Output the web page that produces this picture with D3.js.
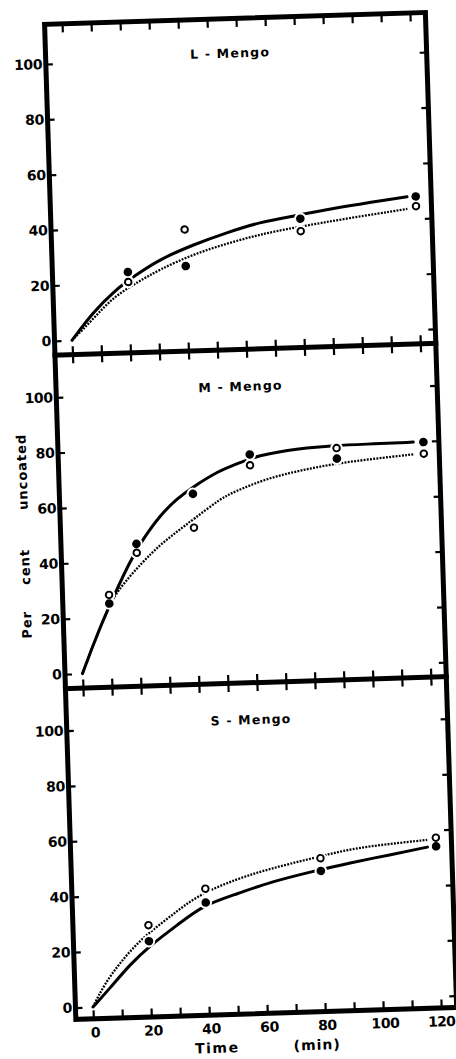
<!DOCTYPE html>
<html>
<head>
<meta charset="utf-8">
<script src="https://cdn.jsdelivr.net/npm/d3@7"></script>
<style>
  html, body { margin: 0; padding: 0; background: #fff; }
  svg { display: block; }
  text { font-family: "DejaVu Sans", "Liberation Sans", sans-serif; font-weight: bold; fill: #000; }
</style>
</head>
<body>
<svg id="chart" width="456" height="1059"></svg>
<script>
// ---- data ----------------------------------------------------------------
const panelNames = ["L - Mengo", "M - Mengo", "S - Mengo"];
const timeTicks = [0, 10, 20, 30, 40, 50, 60, 70, 80, 90, 100, 110, 120];
const timeLabels = [0, 20, 40, 60, 80, 100, 120];
const percentTicks = [0, 20, 40, 60, 80, 100];

// L-Mengo: measured points (min, per cent uncoated)
const lTimes = [20, 40, 80, 120];
const lFilled = [24, 25.5, 41.3, 48];
const lOpen = [20.4, 38.7, 36.8, 44.5];
// fitted curves as drawn
const lSolid = [[0, 0], [7.5, 9.8], [15, 17.3], [22.5, 22.7], [31, 28.2], [43, 33.2], [54.5, 37.1], [66, 40.5], [77.5, 42.3], [97, 45.5], [117, 48]];
const lDotted = [[0, 0], [7.5, 7.4], [14.5, 15], [23, 20.1], [31, 24.6], [42.5, 29.6], [54.5, 33.2], [66, 36.1], [77.5, 38.1], [97, 41], [117, 43.6]];

// M-Mengo
const mTimes = [10, 20, 40, 60, 90, 120];
const mFilled = [25, 46.2, 63.6, 77.2, 74.7, 79.7];
const mOpen = [28.1, 43, 51.4, 73.3, 78.5, 75.5];
const mSolid = [[0, 0], [4, 10.3], [9, 22.2], [18, 41], [22.5, 48.1], [28.5, 56.3], [34.5, 62.1], [40, 66.1], [49.5, 71.8], [54.5, 73.5], [62.5, 76.8], [77.5, 78.9], [89, 79.5], [103, 79.6], [116.5, 79.8]];
const mDotted = [[0, 0], [4, 10.3], [9, 22.2], [12.5, 29.2], [22, 39.7], [28, 45.5], [34, 50.1], [40, 54.5], [49.5, 61.6], [54, 63.8], [65.5, 68.3], [77, 70.8], [89, 72.9], [102.5, 74.2], [116.5, 75.4]];

// S-Mengo
const sTimes = [20, 40, 80, 120];
const sFilled = [23.1, 36.4, 46.5, 54.1];
const sOpen = [28.9, 41.4, 51.1, 57.2];
const sSolid = [[0, 0], [6, 6.5], [13, 14.7], [20.5, 21.7], [30, 28.6], [39, 35.5], [51, 39.2], [62.5, 43.1], [77.5, 46.5], [90, 49.1], [104, 51.5], [117, 53.9]];
const sDotted = [[0, 0], [4, 7.8], [10, 16], [18, 24.7], [27.5, 31.6], [37, 39.1], [51, 44.6], [62.5, 47.9], [76.5, 51], [90, 54.1], [104, 55.5], [117, 56.5]];

const panels = [
  { name: panelNames[0], times: lTimes, filled: lFilled, open: lOpen, solid: lSolid, dotted: lDotted },
  { name: panelNames[1], times: mTimes, filled: mFilled, open: mOpen, solid: mSolid, dotted: mDotted },
  { name: panelNames[2], times: sTimes, filled: sFilled, open: sOpen, solid: sSolid, dotted: sDotted }
];

// ---- layout --------------------------------------------------------------
const W = 386;          // frame width
const PH = 333.5;       // height of each stacked panel
const H = PH * 3;
const FRAME = 5;        // heavy frame stroke
const TICK = 8.5;

const svg = d3.select("#chart");
svg.append("rect").attr("width", 456).attr("height", 1059).attr("fill", "#fff");

// the whole figure sits slightly tilted on the page
const root = svg.append("g").attr("transform", "translate(42,22) rotate(-1.8)");

const x = d3.scaleLinear().domain([-6.9, 126.2]).range([0, W]);
const y = d3.scaleLinear().domain([-5.2, 115.2]).range([PH, 0]);

// smooth hand-drawn style curves through the traced positions
const line = d3.line()
  .x(d => x(d[0]))
  .y(d => y(d[1]))
  .curve(d3.curveBasis);

function styleTicks(g, w) {
  g.select(".domain").remove();
  g.selectAll(".tick line").attr("stroke", "#000").attr("stroke-width", w);
}

panels.forEach((p, i) => {
  const g = root.append("g").attr("transform", `translate(0,${i * PH})`);
  const top = i === 0 ? FRAME / 2 : 0;
  const bottom = i === 2 ? PH - FRAME / 2 : PH;

  // time ticks along the top and bottom edges, pointing inwards
  g.append("g").attr("transform", `translate(0,${top})`)
    .call(d3.axisTop(x).tickValues(timeTicks).tickSize(-TICK).tickFormat(""))
    .call(s => styleTicks(s, 2.2));
  g.append("g").attr("transform", `translate(0,${bottom})`)
    .call(d3.axisBottom(x).tickValues(timeTicks).tickSize(-TICK).tickFormat(""))
    .call(s => styleTicks(s, 2.2));

  // per cent ticks: left with labels, right plain
  const left = g.append("g").attr("transform", `translate(${FRAME / 2},0)`)
    .call(d3.axisLeft(y).tickValues(percentTicks).tickSize(-7).tickPadding(3.5))
    .call(s => styleTicks(s, 2.2));
  left.selectAll(".tick text")
    .attr("font-size", 14)
    .attr("font-family", "DejaVu Sans, sans-serif")
    .attr("font-weight", "bold")
    .attr("letter-spacing", -0.3)
    .attr("fill", "#000");

  g.append("g").attr("transform", `translate(${W - FRAME / 2},0)`)
    .call(d3.axisRight(y).tickValues(percentTicks).tickSize(-7).tickFormat(""))
    .call(s => styleTicks(s, 2.2));

  // panel title
  g.append("text")
    .attr("x", 187).attr("y", 37).attr("dy", "0.35em")
    .attr("text-anchor", "middle")
    .attr("font-size", 12.5).attr("letter-spacing", 1.2)
    .text(p.name);

  // curves
  g.append("path").datum(p.solid)
    .attr("d", line).attr("fill", "none")
    .attr("stroke", "#000").attr("stroke-width", 3).attr("stroke-linecap", "round");
  g.append("path").datum(p.dotted)
    .attr("d", line).attr("fill", "none")
    .attr("stroke", "#000").attr("stroke-width", 2.3)
    .attr("stroke-dasharray", "1.9 1.3");

  const filledPts = p.times.map((t, k) => [t, p.filled[k]]);
  const openPts = p.times.map((t, k) => [t, p.open[k]]);

  // white clearing behind each marker breaks the curves around it
  g.append("g").selectAll("circle").data(filledPts.concat(openPts)).join("circle")
    .attr("cx", d => x(d[0])).attr("cy", d => y(d[1]))
    .attr("r", 6.3).attr("fill", "#fff");

  g.append("g").selectAll("circle").data(filledPts).join("circle")
    .attr("cx", d => x(d[0])).attr("cy", d => y(d[1]))
    .attr("r", 4.3).attr("fill", "#000");
  g.append("g").selectAll("circle").data(openPts).join("circle")
    .attr("cx", d => x(d[0])).attr("cy", d => y(d[1]))
    .attr("r", 3.3).attr("fill", "#fff")
    .attr("stroke", "#000").attr("stroke-width", 1.9);
});

// heavy frame and panel dividers
root.append("rect")
  .attr("x", FRAME / 2).attr("y", FRAME / 2)
  .attr("width", W - FRAME).attr("height", H - FRAME)
  .attr("fill", "none").attr("stroke", "#000").attr("stroke-width", FRAME);
[1, 2].forEach(k => {
  root.append("line")
    .attr("x1", 0).attr("x2", W)
    .attr("y1", k * PH).attr("y2", k * PH)
    .attr("stroke", "#000").attr("stroke-width", FRAME);
});

// time labels under the bottom panel
const xl = root.append("g").attr("transform", `translate(0,${H - FRAME / 2})`)
  .call(d3.axisBottom(x).tickValues(timeLabels).tickSize(0).tickPadding(8.5));
xl.select(".domain").remove();
xl.selectAll(".tick text")
  .attr("font-size", 14)
  .attr("font-family", "DejaVu Sans, sans-serif")
  .attr("font-weight", "bold")
  .attr("letter-spacing", d => d === 120 ? -0.8 : -0.3)
  .attr("fill", "#000")
  .attr("dx", d => d === 120 ? -0.5 : 1.3);

root.append("text")
  .attr("x", 143).attr("y", 1031).attr("dy", "0.35em")
  .attr("text-anchor", "middle").attr("font-size", 14).attr("letter-spacing", 1.5)
  .text("Time");
root.append("text")
  .attr("x", 243).attr("y", 1031).attr("dy", "0.35em")
  .attr("text-anchor", "middle").attr("font-size", 14).attr("letter-spacing", 1)
  .text("(min)");

// vertical axis title, spread along the middle panel
const yTitle = [["Per", 602], ["cent", 544], ["uncoated", 449]];
yTitle.forEach(([word, cy]) => {
  root.append("text")
    .attr("transform", `translate(-29.5,${cy}) rotate(-90)`)
    .attr("text-anchor", "middle")
    .attr("font-size", 13).attr("letter-spacing", 1)
    .text(word);
});
</script>
</body>
</html>
